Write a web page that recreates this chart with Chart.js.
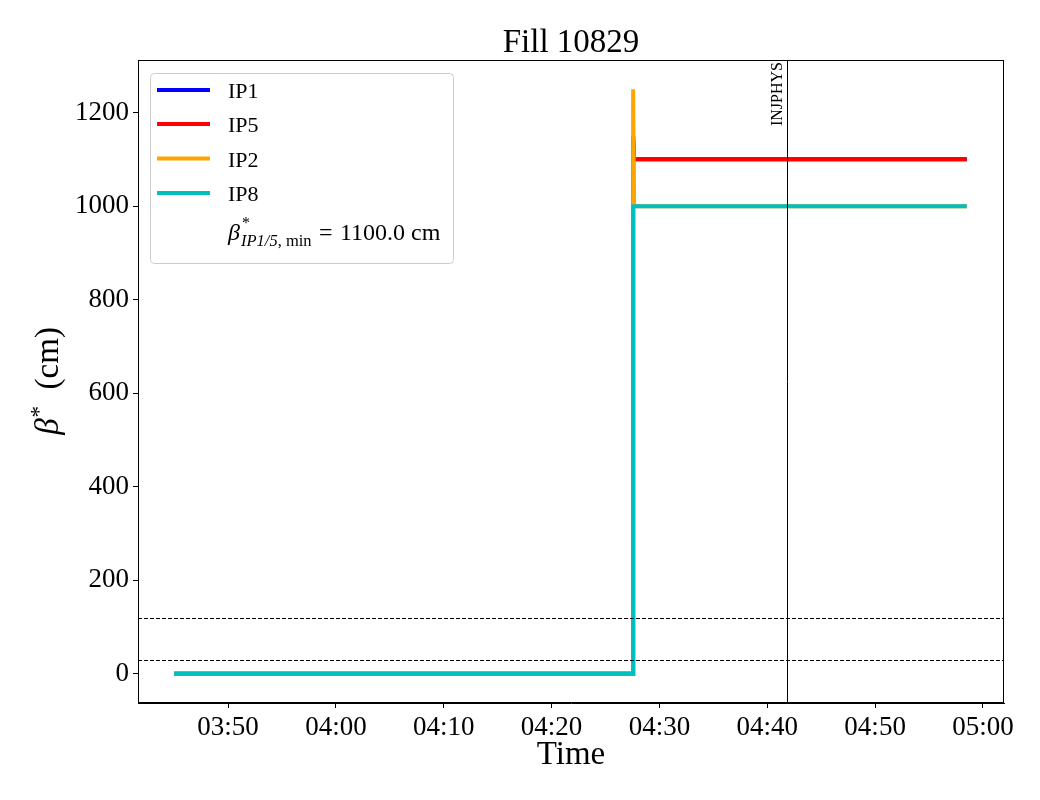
<!DOCTYPE html>
<html>
<head>
<meta charset="utf-8">
<script src="https://cdn.jsdelivr.net/npm/chart.js@4.4.1/dist/chart.umd.min.js"></script>
<style>
  html, body { margin: 0; padding: 0; background: #fff; }
</style>
</head>
<body>
<canvas id="c" width="1040" height="800"></canvas>
<script>
// times are minutes after midnight
const times = [225.0, 267.55, 267.56, 267.65, 298.5];
const ip1 = [0, 0, 1150, 1100, 1100];
const ip5 = [0, 0, 1150, 1100, 1100];
const ip2 = [0, 0, 1250, 1000, 1000];
const ip8 = [0, 0, 1000, 1000, 1000];
const xTicks = [230, 240, 250, 260, 270, 280, 290, 300];
const yTicks = [0, 200, 400, 600, 800, 1000, 1200];
const refLines = [30, 120];
const injTime = 281.83;
const betaMin = 1100.0;

const SERIF = '"Liberation Serif", "DejaVu Serif", serif';

const series = [
  { name: 'IP1', values: ip1, color: '#0000ff' },
  { name: 'IP5', values: ip5, color: '#ff0000' },
  { name: 'IP2', values: ip2, color: '#ffa500' },
  { name: 'IP8', values: ip8, color: '#00bfbf' },
];

function fmt(v) {
  const h = Math.floor(v / 60), m = Math.round(v - h * 60);
  return String(h).padStart(2, '0') + ':' + String(m).padStart(2, '0');
}

const decor = {
  id: 'decor',
  afterDatasetsDraw(chart) {
    const { ctx, chartArea: a, scales: { x, y } } = chart;
    ctx.save();
    ctx.strokeStyle = '#000';
    ctx.lineWidth = 1;
    ctx.setLineDash([4, 2]);
    refLines.forEach(v => {
      const py = Math.round(y.getPixelForValue(v)) + 0.5;
      ctx.beginPath();
      ctx.moveTo(a.left, py);
      ctx.lineTo(a.right, py);
      ctx.stroke();
    });
    ctx.setLineDash([]);
    const px = Math.round(x.getPixelForValue(injTime)) + 0.5;
    ctx.beginPath();
    ctx.moveTo(px, a.top);
    ctx.lineTo(px, a.bottom);
    ctx.stroke();
    // label
    ctx.translate(px - 2, a.top + 2);
    ctx.rotate(-Math.PI / 2);
    ctx.fillStyle = '#000';
    ctx.font = '16px ' + SERIF;
    ctx.textAlign = 'right';
    ctx.textBaseline = 'bottom';
    ctx.fillText('INJPHYS', 0, 0);
    ctx.restore();
  },
  afterDraw(chart) {
    const { ctx, chartArea: a } = chart;
    ctx.save();
    ctx.strokeStyle = '#000';
    ctx.lineWidth = 1;
    ctx.strokeRect(Math.round(a.left) + 0.5, Math.round(a.top) + 0.5,
      Math.round(a.right - a.left) - 1, Math.round(a.bottom - a.top) - 1);

    const cx = (a.left + a.right) / 2;
    ctx.fillStyle = '#000';
    ctx.textAlign = 'center';
    ctx.textBaseline = 'alphabetic';
    ctx.font = '33px ' + SERIF;
    ctx.fillText('Fill 10829', cx, 52);
    ctx.fillText('Time', cx, 764);

    // y axis title
    ctx.save();
    ctx.translate(58, (a.top + a.bottom) / 2);
    ctx.rotate(-Math.PI / 2);
    ctx.textAlign = 'left';
    const bFont = 'italic 33px ' + SERIF, sFont = '23px ' + SERIF, rFont = '33px ' + SERIF;
    ctx.font = bFont; const wb = ctx.measureText('β').width;
    ctx.font = sFont; const ws = ctx.measureText('*').width;
    ctx.font = rFont; const wr = ctx.measureText('  (cm)').width;
    let tx = -(wb + ws + wr) / 2;
    ctx.font = bFont; ctx.fillText('β', tx, 0); tx += wb + 1;
    ctx.font = sFont; ctx.fillText('*', tx, -12); tx += ws;
    ctx.font = rFont; ctx.fillText('  (cm)', tx, 0);
    ctx.restore();

    // legend
    const lx = 150, ly = 73, lw = 303, lh = 190;
    ctx.beginPath();
    ctx.roundRect(lx + 0.5, ly + 0.5, lw, lh, 4);
    ctx.fillStyle = 'rgba(255,255,255,0.8)';
    ctx.fill();
    ctx.strokeStyle = '#cccccc';
    ctx.stroke();
    const rowY = [90, 124, 158.5, 193];
    ctx.textAlign = 'left';
    series.forEach((s, i) => {
      ctx.beginPath();
      ctx.strokeStyle = s.color;
      ctx.lineWidth = 4;
      ctx.moveTo(157, rowY[i]);
      ctx.lineTo(210, rowY[i]);
      ctx.stroke();
      ctx.fillStyle = '#000';
      ctx.font = '22px ' + SERIF;
      ctx.fillText(s.name, 228, rowY[i] + 8);
    });
    // math entry
    const base = 240;
    ctx.fillStyle = '#000';
    ctx.font = 'italic 24px ' + SERIF;
    ctx.fillText('β', 228, base);
    ctx.font = '16px ' + SERIF;
    ctx.fillText('*', 242, base - 12);
    ctx.font = 'italic 16.5px ' + SERIF;
    ctx.fillText('IP1/5', 241, base + 6);
    let sx = 241 + ctx.measureText('IP1/5').width;
    ctx.font = '16.5px ' + SERIF;
    ctx.fillText(', min', sx, base + 6);
    ctx.font = '24px ' + SERIF;
    ctx.fillText('=', 319, base);
    ctx.fillText(betaMin.toFixed(1) + ' cm', 340, base);
    ctx.restore();
  }
};

new Chart(document.getElementById('c'), {
  type: 'line',
  data: {
    datasets: series.map((s, i) => ({
      label: s.name,
      data: times.map((t, k) => ({ x: t, y: s.values[k] })),
      borderColor: s.color,
      backgroundColor: s.color,
      borderWidth: 4,
      pointRadius: 0,
      tension: 0,
      fill: false,
      order: series.length - 1 - i,
    })),
  },
  options: {
    responsive: false,
    animation: false,
    devicePixelRatio: 1,
    layout: { padding: { top: 60, right: 36, left: 0, bottom: 0 } },
    plugins: { legend: { display: false }, title: { display: false }, tooltip: { enabled: false } },
    scales: {
      x: {
        type: 'linear',
        min: 221.65,
        max: 301.95,
        afterBuildTicks: s => { s.ticks = xTicks.map(v => ({ value: v })); },
        afterFit: s => { s.height = 97; },
        grid: { display: true, drawOnChartArea: false, drawTicks: true, tickLength: 5, color: '#000', lineWidth: 1 },
        border: { display: true, color: '#000', width: 1 },
        ticks: { font: { family: SERIF, size: 27 }, color: '#000', padding: 4, maxRotation: 0, autoSkip: false, callback: v => fmt(v) },
      },
      y: {
        type: 'linear',
        min: -62.5,
        max: 1312.5,
        afterBuildTicks: s => { s.ticks = yTicks.map(v => ({ value: v })); },
        afterFit: s => { s.width = 138; },
        grid: { display: true, drawOnChartArea: false, drawTicks: true, tickLength: 5, color: '#000', lineWidth: 1 },
        border: { display: true, color: '#000', width: 1 },
        ticks: { font: { family: SERIF, size: 27 }, color: '#000', padding: 4, autoSkip: false, callback: v => String(v) },
      },
    },
  },
  plugins: [decor],
});
</script>
</body>
</html>
